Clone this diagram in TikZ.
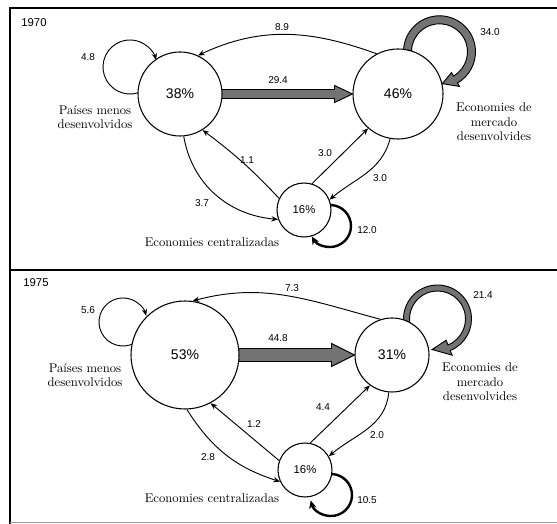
\documentclass[tikz,border=0pt]{standalone}
\usepackage{fontspec}
\newfontfamily\numfont{Liberation Sans}
\usetikzlibrary{arrows.meta,calc,backgrounds}
\begin{document}
\begin{tikzpicture}[x=0.75pt,y=0.75pt,
  bub/.style={circle,draw,fill=white,line width=0.8pt,inner sep=0pt,font=\numfont\fontsize{10.5}{12}\selectfont},
  smallbub/.style={bub,minimum size=40.5pt,font=\numfont\fontsize{8.5}{10}\selectfont},
  num/.style={font=\numfont\fontsize{7.5}{9}\selectfont},
  yearlbl/.style={font=\numfont\fontsize{8.5}{10}\selectfont},
  lbl/.style={font=\fontsize{9.5}{11}\selectfont,align=center,inner sep=0pt},
  flow/.style={line width=0.7pt,-{Stealth[length=5pt,width=4pt]}},
  fat/.style={draw=black,line width=0.7pt,fill=black!55},
  selfloop/.style={line width=1.8pt,-{Stealth[length=6pt,width=5.5pt]}},
  thinloop/.style={line width=0.7pt,-{Stealth[length=5pt,width=4pt]}}]

\useasboundingbox (0,0) rectangle (557,524);
% frame
\draw[line width=0.9pt] (557,516) -- (10,516) -- (10,0);
\draw[line width=0.9pt] (10,254) -- (557,254);
\draw[line width=0.5pt,black!40] (10,2) -- (557,2);

% ---------------- 1970 ----------------
\node[yearlbl] (y70) at (34,501) {1970};
\node[bub,minimum size=63pt] (c38) at (180,430) {38\%};
\node[bub,minimum size=67.5pt] (c46) at (398,430) {46\%};
\node[smallbub] (c16a) at (304,314) {16\%};
\node[lbl] (t38) at (95,407) {Países menos\\desenvolvidos};
\node[lbl] (t46) at (494,402) {Economies de\\mercado\\desenvolvides};
\node[lbl] (t16a) at (212,282) {Economies centralizadas};

\coordinate (L46) at ($(c46.center)+(41.5,42.2)$);
\coordinate (L38) at ($(c38.center)+(-50,27)$);
\coordinate (L16a) at ($(c16a.center)+(26,-16)$);

\begin{scope}[on background layer]
  \path[fat] ($(c38.center)+(0,4.5)$) -- ($(c46.west)+(-18,4.5)$) -- ($(c46.west)+(-18,8.5)$) -- (c46.west)
     -- ($(c46.west)+(-18,-8.5)$) -- ($(c46.west)+(-18,-4.5)$) -- ($(c38.center)+(0,-4.5)$) -- cycle;
  \path[fat] ($(L46)+(185:36)$) arc[start angle=185,end angle=-60,radius=36] -- ($(L46)+(-60:40)$)
     -- ($(L46)+(-85:32)$) -- ($(L46)+(-60:24)$) -- ($(L46)+(-60:28)$) arc[start angle=-60,end angle=185,radius=28] -- cycle;
  \draw[thinloop] ($(L38)+(-60:27)$) arc[start angle=-60,end angle=-345,radius=27];
  \draw[selfloop] ($(L16a)+(100:21)$) arc[start angle=100,end angle=-150,radius=21];
  \draw[flow] (c46.118) to[out=160,in=25] (c38.65);
  \draw[flow] (c38.-85) to[out=-80,in=175] (c16a.200);
  \draw[flow] (c16a.155) to[bend right=5] (c38.-58);
  \draw[flow] (c16a.73) -- (c46.229);
  \draw[flow] (c46.-100) to[out=-105,in=40] (c16a.22);
\end{scope}

\node[num] (n48) at (88,467) {4.8};
\node[num] (n89) at (282,497) {8.9};
\node[num] (n294) at (278,444) {29.4};
\node[num] (n340) at (490,492) {34.0};
\node[num] (n11) at (247,364) {1.1};
\node[num] (n37) at (202,321) {3.7};
\node[num] (n30a) at (325,371) {3.0};
\node[num] (n30b) at (380,346) {3.0};
\node[num] (n120) at (367,294) {12.0};

% ---------------- 1975 ----------------
\node[yearlbl] (y75) at (36,241) {1975};
\node[bub,minimum size=81pt] (c53) at (185,169) {53\%};
\node[bub,minimum size=55.5pt] (c31) at (392,169) {31\%};
\node[smallbub] (c16b) at (305,54) {16\%};
\node[lbl] (t53) at (85,149) {Países menos\\desenvolvidos};
\node[lbl] (t31) at (480,142) {Economies de\\mercado\\desenvolvides};
\node[lbl] (t16b) at (212,26) {Economies centralizadas};

\coordinate (L31) at ($(c31.center)+(45.5,36)$);
\coordinate (L53) at ($(c53.center)+(-62,33)$);
\coordinate (L16b) at ($(c16b.center)+(26,-25)$);

\begin{scope}[on background layer]
  \path[fat] ($(c53.center)+(0,6.5)$) -- ($(c31.west)+(-23,6.5)$) -- ($(c31.west)+(-23,11.5)$) -- (c31.west)
     -- ($(c31.west)+(-23,-11.5)$) -- ($(c31.west)+(-23,-6.5)$) -- ($(c53.center)+(0,-6.5)$) -- cycle;
  \path[fat] ($(L31)+(190:34)$) arc[start angle=190,end angle=-68,radius=34] -- ($(L31)+(-68:39)$)
     -- ($(L31)+(-100:31)$) -- ($(L31)+(-68:23)$) -- ($(L31)+(-68:28)$) arc[start angle=-68,end angle=190,radius=28] -- cycle;
  \draw[thinloop] ($(L53)+(-51:24)$) arc[start angle=-51,end angle=-345,radius=24];
  \draw[selfloop] ($(L16b)+(100:21)$) arc[start angle=100,end angle=-165,radius=21];
  \draw[flow] (c31.108) to[out=165,in=15] (c53.82);
  \draw[flow] (c53.-88) to[bend right=20] (c16b.205);
  \draw[flow] (c16b.160) -- (c53.-62);
  \draw[flow] (c16b.79) -- (c31.234);
  \draw[flow] (c31.-95) to[out=-95,in=40] (c16b.30);
\end{scope}

\node[num] (n56) at (88,214) {5.6};
\node[num] (n73) at (292,236) {7.3};
\node[num] (n448) at (278,186) {44.8};
\node[num] (n214) at (483,229) {21.4};
\node[num] (n44) at (323,117) {4.4};
\node[num] (n20) at (377,89) {2.0};
\node[num] (n12) at (254,100) {1.2};
\node[num] (n28) at (208,67) {2.8};
\node[num] (n105) at (367,24) {10.5};
\end{tikzpicture}
\end{document}
